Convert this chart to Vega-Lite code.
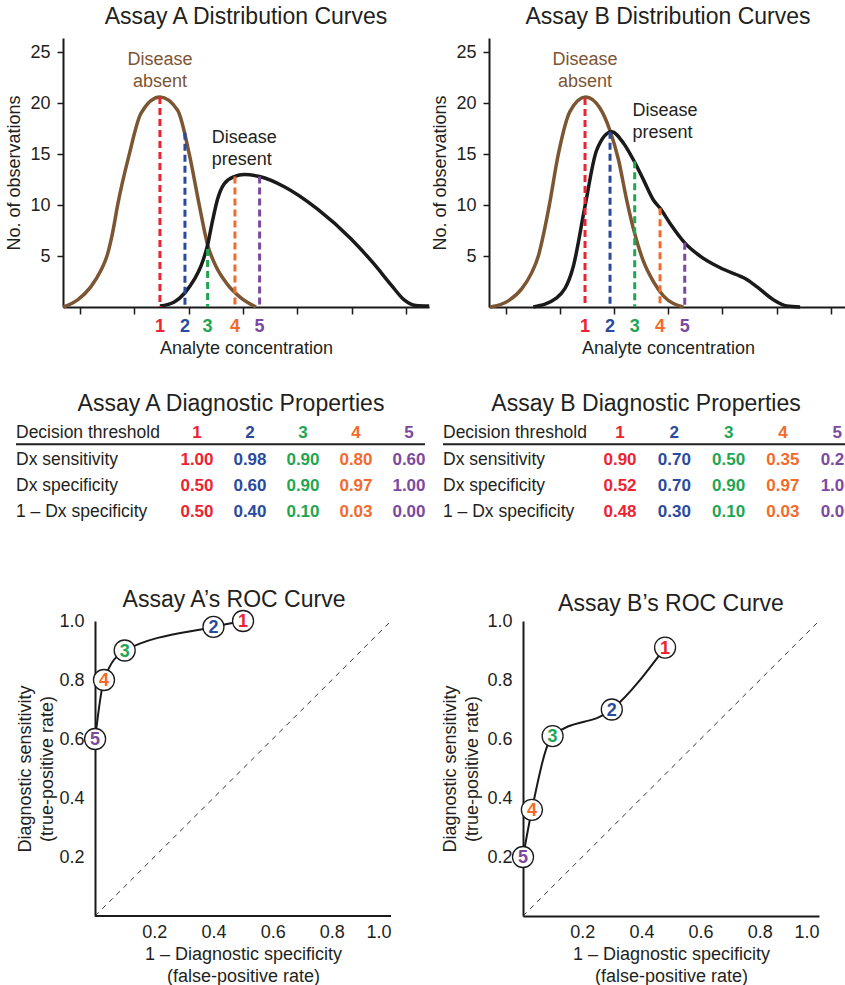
{
  "$schema": "https://vega.github.io/schema/vega-lite/v6.json",
  "padding": {"left": 5, "top": 5, "right": 0, "bottom": 0},
  "columns": 1,
  "align": "none",
  "spacing": 35,
  "config": {
    "font": "Liberation Sans",
    "view": {"stroke": null},
    "title": {"font": "Liberation Sans", "fontSize": 23, "fontWeight": "normal", "color": "#231f20"},
    "axis": {"labelFont": "Liberation Sans", "titleFont": "Liberation Sans", "labelColor": "#231f20", "titleColor": "#231f20", "domainColor": "#1a1a1a", "tickColor": "#1a1a1a", "grid": false, "titleFontWeight": "normal"},
    "text": {"font": "Liberation Sans", "color": "#231f20"}
  },
  "datasets": {
    "dist": [
      {"assay": "A", "group": "Disease absent", "c": 0.386, "n": 0},
      {"assay": "A", "group": "Disease absent", "c": 0.914, "n": 0.7},
      {"assay": "A", "group": "Disease absent", "c": 1.405, "n": 2.0},
      {"assay": "A", "group": "Disease absent", "c": 1.773, "n": 3.6},
      {"assay": "A", "group": "Disease absent", "c": 1.994, "n": 5},
      {"assay": "A", "group": "Disease absent", "c": 2.202, "n": 7.3},
      {"assay": "A", "group": "Disease absent", "c": 2.386, "n": 10},
      {"assay": "A", "group": "Disease absent", "c": 2.816, "n": 15},
      {"assay": "A", "group": "Disease absent", "c": 3.245, "n": 19},
      {"assay": "A", "group": "Disease absent", "c": 3.944, "n": 20.6},
      {"assay": "A", "group": "Disease absent", "c": 4.595, "n": 19.3},
      {"assay": "A", "group": "Disease absent", "c": 5.024, "n": 15},
      {"assay": "A", "group": "Disease absent", "c": 5.392, "n": 10},
      {"assay": "A", "group": "Disease absent", "c": 5.699, "n": 6.1},
      {"assay": "A", "group": "Disease absent", "c": 6.006, "n": 4.0},
      {"assay": "A", "group": "Disease absent", "c": 6.435, "n": 2.2},
      {"assay": "A", "group": "Disease absent", "c": 6.926, "n": 0.9},
      {"assay": "A", "group": "Disease absent", "c": 7.478, "n": 0},
      {"assay": "A", "group": "Disease present", "c": 3.944, "n": 0.1},
      {"assay": "A", "group": "Disease present", "c": 4.472, "n": 0.5},
      {"assay": "A", "group": "Disease present", "c": 4.865, "n": 1.4},
      {"assay": "A", "group": "Disease present", "c": 5.208, "n": 2.7},
      {"assay": "A", "group": "Disease present", "c": 5.453, "n": 4.0},
      {"assay": "A", "group": "Disease present", "c": 5.699, "n": 6.1},
      {"assay": "A", "group": "Disease present", "c": 5.883, "n": 8.5},
      {"assay": "A", "group": "Disease present", "c": 6.067, "n": 10.6},
      {"assay": "A", "group": "Disease present", "c": 6.312, "n": 12.1},
      {"assay": "A", "group": "Disease present", "c": 6.68, "n": 12.8},
      {"assay": "A", "group": "Disease present", "c": 7.048, "n": 13.0},
      {"assay": "A", "group": "Disease present", "c": 7.613, "n": 12.8},
      {"assay": "A", "group": "Disease present", "c": 8.521, "n": 11.8},
      {"assay": "A", "group": "Disease present", "c": 9.748, "n": 9.6},
      {"assay": "A", "group": "Disease present", "c": 10.974, "n": 6.7},
      {"assay": "A", "group": "Disease present", "c": 11.833, "n": 4.2},
      {"assay": "A", "group": "Disease present", "c": 12.446, "n": 2.2},
      {"assay": "A", "group": "Disease present", "c": 12.937, "n": 0.7},
      {"assay": "A", "group": "Disease present", "c": 13.367, "n": 0.15},
      {"assay": "A", "group": "Disease present", "c": 13.857, "n": 0.1},
      {"assay": "B", "group": "Disease absent", "c": 0.423, "n": 0},
      {"assay": "B", "group": "Disease absent", "c": 1.1, "n": 0.6},
      {"assay": "B", "group": "Disease absent", "c": 1.6, "n": 1.8},
      {"assay": "B", "group": "Disease absent", "c": 1.95, "n": 3.3},
      {"assay": "B", "group": "Disease absent", "c": 2.208, "n": 5},
      {"assay": "B", "group": "Disease absent", "c": 2.42, "n": 7.4},
      {"assay": "B", "group": "Disease absent", "c": 2.614, "n": 10},
      {"assay": "B", "group": "Disease absent", "c": 2.946, "n": 15},
      {"assay": "B", "group": "Disease absent", "c": 3.377, "n": 19.2},
      {"assay": "B", "group": "Disease absent", "c": 3.955, "n": 20.6},
      {"assay": "B", "group": "Disease absent", "c": 4.485, "n": 19.5},
      {"assay": "B", "group": "Disease absent", "c": 4.854, "n": 17.3},
      {"assay": "B", "group": "Disease absent", "c": 5.162, "n": 14.5},
      {"assay": "B", "group": "Disease absent", "c": 5.469, "n": 10.5},
      {"assay": "B", "group": "Disease absent", "c": 5.765, "n": 7.2},
      {"assay": "B", "group": "Disease absent", "c": 6.085, "n": 4.5},
      {"assay": "B", "group": "Disease absent", "c": 6.454, "n": 2.5},
      {"assay": "B", "group": "Disease absent", "c": 6.824, "n": 1.1},
      {"assay": "B", "group": "Disease absent", "c": 7.562, "n": 0},
      {"assay": "B", "group": "Disease present", "c": 2.023, "n": 0},
      {"assay": "B", "group": "Disease present", "c": 2.884, "n": 0.9},
      {"assay": "B", "group": "Disease present", "c": 3.5, "n": 4},
      {"assay": "B", "group": "Disease present", "c": 3.931, "n": 9.9},
      {"assay": "B", "group": "Disease present", "c": 4.361, "n": 15.4},
      {"assay": "B", "group": "Disease present", "c": 4.915, "n": 17.2},
      {"assay": "B", "group": "Disease present", "c": 5.346, "n": 16.1},
      {"assay": "B", "group": "Disease present", "c": 5.765, "n": 14.2},
      {"assay": "B", "group": "Disease present", "c": 6.085, "n": 12.5},
      {"assay": "B", "group": "Disease present", "c": 6.454, "n": 10.5},
      {"assay": "B", "group": "Disease present", "c": 6.7, "n": 9.7},
      {"assay": "B", "group": "Disease present", "c": 7.07, "n": 8.2},
      {"assay": "B", "group": "Disease present", "c": 7.611, "n": 6.3},
      {"assay": "B", "group": "Disease present", "c": 8.178, "n": 5.0},
      {"assay": "B", "group": "Disease present", "c": 9.039, "n": 3.7},
      {"assay": "B", "group": "Disease present", "c": 9.901, "n": 2.7},
      {"assay": "B", "group": "Disease present", "c": 10.27, "n": 2.0},
      {"assay": "B", "group": "Disease present", "c": 10.886, "n": 0.7},
      {"assay": "B", "group": "Disease present", "c": 11.378, "n": 0.1},
      {"assay": "B", "group": "Disease present", "c": 11.87, "n": 0}
    ],
    "thresholds": [
      {"assay": "A", "t": 1, "c": 3.944, "top": 20.6},
      {"assay": "A", "t": 2, "c": 4.865, "top": 17.1},
      {"assay": "A", "t": 3, "c": 5.699, "top": 5.7},
      {"assay": "A", "t": 4, "c": 6.705, "top": 12.8},
      {"assay": "A", "t": 5, "c": 7.613, "top": 12.8},
      {"assay": "B", "t": 1, "c": 3.931, "top": 20.5},
      {"assay": "B", "t": 2, "c": 4.854, "top": 17.2},
      {"assay": "B", "t": 3, "c": 5.765, "top": 14.3},
      {"assay": "B", "t": 4, "c": 6.7, "top": 9.7},
      {"assay": "B", "t": 5, "c": 7.611, "top": 6.3}
    ],
    "curveLabels": [
      {"assay": "A", "group": "Disease absent", "label": "Disease\nabsent", "c": 3.944, "n": 24.2},
      {"assay": "A", "group": "Disease present", "label": "Disease\npresent", "c": 5.85, "n": 16.6},
      {"assay": "B", "group": "Disease absent", "label": "Disease\nabsent", "c": 3.93, "n": 24.2},
      {"assay": "B", "group": "Disease present", "label": "Disease\npresent", "c": 5.68, "n": 19.2}
    ],
    "rowLabels": [
      {"assay": "A", "r": 0, "label": "Decision threshold"},
      {"assay": "A", "r": 1, "label": "Dx sensitivity"},
      {"assay": "A", "r": 2, "label": "Dx specificity"},
      {"assay": "A", "r": 3, "label": "1 – Dx specificity"},
      {"assay": "B", "r": 0, "label": "Decision threshold"},
      {"assay": "B", "r": 1, "label": "Dx sensitivity"},
      {"assay": "B", "r": 2, "label": "Dx specificity"},
      {"assay": "B", "r": 3, "label": "1 – Dx specificity"}
    ],
    "table": [
      {"assay": "A", "r": 0, "t": 1, "text": "1"},
      {"assay": "A", "r": 0, "t": 2, "text": "2"},
      {"assay": "A", "r": 0, "t": 3, "text": "3"},
      {"assay": "A", "r": 0, "t": 4, "text": "4"},
      {"assay": "A", "r": 0, "t": 5, "text": "5"},
      {"assay": "A", "r": 1, "t": 1, "text": "1.00"},
      {"assay": "A", "r": 1, "t": 2, "text": "0.98"},
      {"assay": "A", "r": 1, "t": 3, "text": "0.90"},
      {"assay": "A", "r": 1, "t": 4, "text": "0.80"},
      {"assay": "A", "r": 1, "t": 5, "text": "0.60"},
      {"assay": "A", "r": 2, "t": 1, "text": "0.50"},
      {"assay": "A", "r": 2, "t": 2, "text": "0.60"},
      {"assay": "A", "r": 2, "t": 3, "text": "0.90"},
      {"assay": "A", "r": 2, "t": 4, "text": "0.97"},
      {"assay": "A", "r": 2, "t": 5, "text": "1.00"},
      {"assay": "A", "r": 3, "t": 1, "text": "0.50"},
      {"assay": "A", "r": 3, "t": 2, "text": "0.40"},
      {"assay": "A", "r": 3, "t": 3, "text": "0.10"},
      {"assay": "A", "r": 3, "t": 4, "text": "0.03"},
      {"assay": "A", "r": 3, "t": 5, "text": "0.00"},
      {"assay": "B", "r": 0, "t": 1, "text": "1"},
      {"assay": "B", "r": 0, "t": 2, "text": "2"},
      {"assay": "B", "r": 0, "t": 3, "text": "3"},
      {"assay": "B", "r": 0, "t": 4, "text": "4"},
      {"assay": "B", "r": 0, "t": 5, "text": "5"},
      {"assay": "B", "r": 1, "t": 1, "text": "0.90"},
      {"assay": "B", "r": 1, "t": 2, "text": "0.70"},
      {"assay": "B", "r": 1, "t": 3, "text": "0.50"},
      {"assay": "B", "r": 1, "t": 4, "text": "0.35"},
      {"assay": "B", "r": 1, "t": 5, "text": "0.20"},
      {"assay": "B", "r": 2, "t": 1, "text": "0.52"},
      {"assay": "B", "r": 2, "t": 2, "text": "0.70"},
      {"assay": "B", "r": 2, "t": 3, "text": "0.90"},
      {"assay": "B", "r": 2, "t": 4, "text": "0.97"},
      {"assay": "B", "r": 2, "t": 5, "text": "1.00"},
      {"assay": "B", "r": 3, "t": 1, "text": "0.48"},
      {"assay": "B", "r": 3, "t": 2, "text": "0.30"},
      {"assay": "B", "r": 3, "t": 3, "text": "0.10"},
      {"assay": "B", "r": 3, "t": 4, "text": "0.03"},
      {"assay": "B", "r": 3, "t": 5, "text": "0.00"}
    ],
    "roc": [
      {"assay": "A", "t": 1, "fpr": 0.5, "tpr": 1.0},
      {"assay": "A", "t": 2, "fpr": 0.4, "tpr": 0.98},
      {"assay": "A", "t": 3, "fpr": 0.1, "tpr": 0.9},
      {"assay": "A", "t": 4, "fpr": 0.03, "tpr": 0.8},
      {"assay": "A", "t": 5, "fpr": 0.0, "tpr": 0.6},
      {"assay": "B", "t": 1, "fpr": 0.48, "tpr": 0.91},
      {"assay": "B", "t": 2, "fpr": 0.3, "tpr": 0.7},
      {"assay": "B", "t": 3, "fpr": 0.1, "tpr": 0.61},
      {"assay": "B", "t": 4, "fpr": 0.03, "tpr": 0.36},
      {"assay": "B", "t": 5, "fpr": 0.0, "tpr": 0.2}
    ],
    "chance": [
      {"fpr": 0, "tpr": 0},
      {"fpr": 1, "tpr": 1}
    ]
  },
  "concat": [
    {
      "spacing": -6,
      "hconcat": [
        {
          "width": 366, "height": 269,
          "title": {"text": "Assay A Distribution Curves", "frame": "group", "offset": 9.5},
          "layer": [
            {
              "data": {"name": "dist"},
              "transform": [{"filter": "datum.assay === 'A'"}],
              "mark": {"type": "line", "interpolate": "monotone", "strokeWidth": 3.5},
              "encoding": {
                "x": {"field": "c", "type": "quantitative", "scale": {"domain": [0.375, 13.85], "nice": false, "zero": false},
                  "axis": {"values": [1,2,3,4,5,6,7,8,9,10,11,12,13], "labels": false, "tickSize": 7, "tickWidth": 1.5, "domainWidth": 2, "title": "Analyte concentration", "titleFontSize": 18, "titlePadding": 25}},
                "y": {"field": "n", "type": "quantitative", "scale": {"domain": [0, 26.4], "nice": false},
                  "axis": {"values": [5,10,15,20,25], "tickSize": 6, "tickWidth": 1.5, "labelPadding": 7, "labelFontSize": 18, "domainWidth": 2, "title": "No. of observations", "titleFontSize": 18, "titlePadding": 6}},
                "stroke": {"field": "group", "type": "nominal", "scale": {"domain": ["Disease absent", "Disease present"], "range": ["#7c5533", "#1a1a1a"]}, "legend": null}
              }
            },
            {
              "data": {"name": "thresholds"},
              "transform": [{"filter": "datum.assay === 'A'"}],
              "mark": {"type": "rule", "strokeDash": [7, 4], "strokeWidth": 3},
              "encoding": {
                "x": {"field": "c", "type": "quantitative"},
                "y": {"field": "top", "type": "quantitative"},
                "y2": {"datum": 0},
                "color": {"field": "t", "type": "nominal", "scale": {"domain": [1,2,3,4,5], "range": ["#ec2331", "#2b4a9e", "#1fa652", "#f36b2c", "#7b4a9f"]}, "legend": null}
              }
            },
            {
              "data": {"name": "thresholds"},
              "transform": [{"filter": "datum.assay === 'A'"}],
              "mark": {"type": "text", "fontSize": 18, "fontWeight": "bold", "dy": 20, "baseline": "middle"},
              "encoding": {
                "x": {"field": "c", "type": "quantitative"},
                "y": {"datum": 0, "type": "quantitative"},
                "text": {"field": "t", "type": "nominal"},
                "color": {"field": "t", "type": "nominal", "scale": {"domain": [1,2,3,4,5], "range": ["#ec2331", "#2b4a9e", "#1fa652", "#f36b2c", "#7b4a9f"]}, "legend": null}
              }
            },
            {
              "data": {"name": "curveLabels"},
              "transform": [{"filter": "datum.assay === 'A' && datum.group === 'Disease absent'"}],
              "mark": {"type": "text", "fontSize": 18, "lineBreak": "\n", "align": "center", "baseline": "middle", "lineHeight": 22},
              "encoding": {
                "x": {"field": "c", "type": "quantitative"},
                "y": {"field": "n", "type": "quantitative"},
                "text": {"field": "label", "type": "nominal"},
                "fill": {"field": "group", "type": "nominal", "scale": {"domain": ["Disease absent", "Disease present"], "range": ["#7c5533", "#231f20"]}, "legend": null}
              }
            },
            {
              "data": {"name": "curveLabels"},
              "transform": [{"filter": "datum.assay === 'A' && datum.group === 'Disease present'"}],
              "mark": {"type": "text", "fontSize": 18, "lineBreak": "\n", "align": "left", "baseline": "middle", "lineHeight": 22},
              "encoding": {
                "x": {"field": "c", "type": "quantitative"},
                "y": {"field": "n", "type": "quantitative"},
                "text": {"field": "label", "type": "nominal"},
                "fill": {"field": "group", "type": "nominal", "scale": {"domain": ["Disease absent", "Disease present"], "range": ["#7c5533", "#231f20"]}, "legend": null}
              }
            }
          ]
        },
        {
          "width": 358, "height": 269,
          "title": {"text": "Assay B Distribution Curves", "frame": "group", "offset": 9.5},
          "layer": [
            {
              "data": {"name": "dist"},
              "transform": [{"filter": "datum.assay === 'B'"}],
              "mark": {"type": "line", "interpolate": "monotone", "strokeWidth": 3.5},
              "encoding": {
                "x": {"field": "c", "type": "quantitative", "scale": {"domain": [0.387, 13.6], "nice": false, "zero": false},
                  "axis": {"values": [1,2,3,4,5,6,7,8,9,10,11,12,13], "labels": false, "tickSize": 7, "tickWidth": 1.5, "domainWidth": 2, "title": "Analyte concentration", "titleFontSize": 18, "titlePadding": 25}},
                "y": {"field": "n", "type": "quantitative", "scale": {"domain": [0, 26.4], "nice": false},
                  "axis": {"values": [5,10,15,20,25], "tickSize": 6, "tickWidth": 1.5, "labelPadding": 7, "labelFontSize": 18, "domainWidth": 2, "title": "No. of observations", "titleFontSize": 18, "titlePadding": 6}},
                "stroke": {"field": "group", "type": "nominal", "scale": {"domain": ["Disease absent", "Disease present"], "range": ["#7c5533", "#1a1a1a"]}, "legend": null}
              }
            },
            {
              "data": {"name": "thresholds"},
              "transform": [{"filter": "datum.assay === 'B'"}],
              "mark": {"type": "rule", "strokeDash": [7, 4], "strokeWidth": 3},
              "encoding": {
                "x": {"field": "c", "type": "quantitative"},
                "y": {"field": "top", "type": "quantitative"},
                "y2": {"datum": 0},
                "color": {"field": "t", "type": "nominal", "scale": {"domain": [1,2,3,4,5], "range": ["#ec2331", "#2b4a9e", "#1fa652", "#f36b2c", "#7b4a9f"]}, "legend": null}
              }
            },
            {
              "data": {"name": "thresholds"},
              "transform": [{"filter": "datum.assay === 'B'"}],
              "mark": {"type": "text", "fontSize": 18, "fontWeight": "bold", "dy": 20, "baseline": "middle"},
              "encoding": {
                "x": {"field": "c", "type": "quantitative"},
                "y": {"datum": 0, "type": "quantitative"},
                "text": {"field": "t", "type": "nominal"},
                "color": {"field": "t", "type": "nominal", "scale": {"domain": [1,2,3,4,5], "range": ["#ec2331", "#2b4a9e", "#1fa652", "#f36b2c", "#7b4a9f"]}, "legend": null}
              }
            },
            {
              "data": {"name": "curveLabels"},
              "transform": [{"filter": "datum.assay === 'B' && datum.group === 'Disease absent'"}],
              "mark": {"type": "text", "fontSize": 18, "lineBreak": "\n", "align": "center", "baseline": "middle", "lineHeight": 22},
              "encoding": {
                "x": {"field": "c", "type": "quantitative"},
                "y": {"field": "n", "type": "quantitative"},
                "text": {"field": "label", "type": "nominal"},
                "fill": {"field": "group", "type": "nominal", "scale": {"domain": ["Disease absent", "Disease present"], "range": ["#7c5533", "#231f20"]}, "legend": null}
              }
            },
            {
              "data": {"name": "curveLabels"},
              "transform": [{"filter": "datum.assay === 'B' && datum.group === 'Disease present'"}],
              "mark": {"type": "text", "fontSize": 18, "lineBreak": "\n", "align": "left", "baseline": "middle", "lineHeight": 22},
              "encoding": {
                "x": {"field": "c", "type": "quantitative"},
                "y": {"field": "n", "type": "quantitative"},
                "text": {"field": "label", "type": "nominal"},
                "fill": {"field": "group", "type": "nominal", "scale": {"domain": ["Disease absent", "Disease present"], "range": ["#7c5533", "#231f20"]}, "legend": null}
              }
            }
          ]
        }
      ]
    },
    {
      "spacing": 16,
      "hconcat": [
        {
          "width": 362, "height": 132.5,
          "title": {"text": "Assay A Diagnostic Properties", "frame": "group", "dx": -13, "offset": 4, "fontSize": 23},
          "layer": [
            {
              "data": {"name": "rowLabels"},
              "transform": [{"filter": "datum.assay === 'A'"}],
              "mark": {"type": "text", "align": "left", "baseline": "middle", "fontSize": 17.5},
              "encoding": {
                "x": {"datum": -2.415, "type": "quantitative", "scale": {"domain": [-1.528, 5.302], "nice": false, "zero": false}, "axis": null},
                "y": {"field": "r", "type": "quantitative", "scale": {"domain": [-0.5, 4.53], "reverse": true, "nice": false, "zero": false}, "axis": null},
                "text": {"field": "label", "type": "nominal"}
              }
            },
            {
              "data": {"name": "rowLabels"},
              "transform": [{"filter": "datum.assay === 'A' && datum.r === 0"}],
              "mark": {"type": "rule", "strokeWidth": 2, "color": "#231f20"},
              "encoding": {
                "x": {"datum": -2.415, "type": "quantitative"},
                "x2": {"datum": 5.302},
                "y": {"datum": 0.42, "type": "quantitative"}
              }
            },
            {
              "data": {"name": "table"},
              "transform": [{"filter": "datum.assay === 'A'"}],
              "mark": {"type": "text", "baseline": "middle", "fontSize": 17, "fontWeight": "bold"},
              "encoding": {
                "x": {"field": "t", "type": "quantitative"},
                "y": {"field": "r", "type": "quantitative"},
                "text": {"field": "text", "type": "nominal"},
                "color": {"field": "t", "type": "nominal", "scale": {"domain": [1,2,3,4,5], "range": ["#ec2331", "#2b3f98", "#1fa652", "#f36b2c", "#7b4a9f"]}, "legend": null}
              }
            }
          ]
        },
        {
          "width": 406, "height": 132.5,
          "title": {"text": "Assay B Diagnostic Properties", "frame": "group", "offset": 4, "fontSize": 23},
          "layer": [
            {
              "data": {"name": "rowLabels"},
              "transform": [{"filter": "datum.assay === 'B'"}],
              "mark": {"type": "text", "align": "left", "baseline": "middle", "fontSize": 17.5},
              "encoding": {
                "x": {"datum": -2.26, "type": "quantitative", "scale": {"domain": [-2.26, 5.217], "nice": false, "zero": false}, "axis": null},
                "y": {"field": "r", "type": "quantitative", "scale": {"domain": [-0.5, 4.53], "reverse": true, "nice": false, "zero": false}, "axis": null},
                "text": {"field": "label", "type": "nominal"}
              }
            },
            {
              "data": {"name": "rowLabels"},
              "transform": [{"filter": "datum.assay === 'B' && datum.r === 0"}],
              "mark": {"type": "rule", "strokeWidth": 2, "color": "#231f20"},
              "encoding": {
                "x": {"datum": -2.26, "type": "quantitative"},
                "x2": {"datum": 5.217},
                "y": {"datum": 0.42, "type": "quantitative"}
              }
            },
            {
              "data": {"name": "table"},
              "transform": [{"filter": "datum.assay === 'B'"}],
              "mark": {"type": "text", "baseline": "middle", "fontSize": 17, "fontWeight": "bold", "clip": true},
              "encoding": {
                "x": {"field": "t", "type": "quantitative"},
                "y": {"field": "r", "type": "quantitative"},
                "text": {"field": "text", "type": "nominal"},
                "color": {"field": "t", "type": "nominal", "scale": {"domain": [1,2,3,4,5], "range": ["#ec2331", "#2b3f98", "#1fa652", "#f36b2c", "#7b4a9f"]}, "legend": null}
              }
            }
          ]
        }
      ]
    },
    {
      "spacing": 48,
      "hconcat": [
        {
          "width": 328, "height": 295,
          "title": {"text": "Assay A’s ROC Curve", "frame": "group", "offset": -4, "dx": 7},
          "layer": [
            {
              "data": {"name": "chance"},
              "mark": {"type": "line", "strokeDash": [5, 5], "strokeWidth": 1, "color": "#333333"},
              "encoding": {
                "x": {"field": "fpr", "type": "quantitative", "scale": {"domain": [-0.1085, 1], "nice": false, "zero": false},
                  "axis": {"values": [0.2, 0.4, 0.6, 0.8, 1.0], "format": ".1f", "ticks": false, "domain": false, "labelPadding": 7, "labelFontSize": 18, "title": ["1 – Diagnostic specificity", "(false-positive rate)"], "titleFontSize": 18, "titleLineHeight": 22, "titlePadding": 4, "titleX": 180}},
                "y": {"field": "tpr", "type": "quantitative", "scale": {"domain": [0, 1], "nice": false},
                  "axis": {"values": [0.2, 0.4, 0.6, 0.8, 1.0], "format": ".1f", "ticks": false, "offset": -32, "labelPadding": 11, "labelFontSize": 18, "domainWidth": 2, "title": ["Diagnostic sensitivity", "(true-positive rate)"], "titleFontSize": 18, "titleLineHeight": 22, "titlePadding": 2}}
              }
            },
            {
              "data": {"name": "chance"},
              "transform": [{"filter": "datum.fpr === 0"}],
              "mark": {"type": "rule", "strokeWidth": 2, "color": "#1a1a1a"},
              "encoding": {
                "x": {"datum": 0, "type": "quantitative"},
                "x2": {"datum": 1},
                "y": {"datum": 0, "type": "quantitative"}
              }
            },
            {
              "data": {"name": "roc"},
              "transform": [{"filter": "datum.assay === 'A'"}],
              "mark": {"type": "line", "interpolate": "monotone", "strokeWidth": 2, "color": "#1a1a1a"},
              "encoding": {
                "x": {"field": "fpr", "type": "quantitative"},
                "y": {"field": "tpr", "type": "quantitative"}
              }
            },
            {
              "data": {"name": "roc"},
              "transform": [{"filter": "datum.assay === 'A'"}],
              "mark": {"type": "circle", "size": 441, "fill": "white", "stroke": "#1a1a1a", "strokeWidth": 1.3, "opacity": 1},
              "encoding": {
                "x": {"field": "fpr", "type": "quantitative"},
                "y": {"field": "tpr", "type": "quantitative"}
              }
            },
            {
              "data": {"name": "roc"},
              "transform": [{"filter": "datum.assay === 'A'"}],
              "mark": {"type": "text", "fontSize": 18, "fontWeight": "bold", "baseline": "middle", "dy": 1},
              "encoding": {
                "x": {"field": "fpr", "type": "quantitative"},
                "y": {"field": "tpr", "type": "quantitative"},
                "text": {"field": "t", "type": "nominal"},
                "color": {"field": "t", "type": "nominal", "scale": {"domain": [1,2,3,4,5], "range": ["#ec2331", "#2b3f98", "#1fa652", "#f36b2c", "#7b4a9f"]}, "legend": null}
              }
            }
          ]
        },
        {
          "width": 296, "height": 295,
          "title": {"text": "Assay B’s ROC Curve", "frame": "group", "offset": -4},
          "layer": [
            {
              "data": {"name": "chance"},
              "mark": {"type": "line", "strokeDash": [5, 5], "strokeWidth": 1, "color": "#333333"},
              "encoding": {
                "x": {"field": "fpr", "type": "quantitative", "scale": {"domain": [0, 1], "nice": false},
                  "axis": {"values": [0.2, 0.4, 0.6, 0.8, 1.0], "format": ".1f", "ticks": false, "labelPadding": 7, "labelFontSize": 18, "domainWidth": 2, "title": ["1 – Diagnostic specificity", "(false-positive rate)"], "titleFontSize": 18, "titleLineHeight": 22, "titlePadding": 4}},
                "y": {"field": "tpr", "type": "quantitative", "scale": {"domain": [0, 1], "nice": false},
                  "axis": {"values": [0.2, 0.4, 0.6, 0.8, 1.0], "format": ".1f", "ticks": false, "labelPadding": 11, "labelFontSize": 18, "domainWidth": 2, "title": ["Diagnostic sensitivity", "(true-positive rate)"], "titleFontSize": 18, "titleLineHeight": 22, "titlePadding": 5}}
              }
            },
            {
              "data": {"name": "roc"},
              "transform": [{"filter": "datum.assay === 'B'"}],
              "mark": {"type": "line", "interpolate": "monotone", "strokeWidth": 2, "color": "#1a1a1a"},
              "encoding": {
                "x": {"field": "fpr", "type": "quantitative"},
                "y": {"field": "tpr", "type": "quantitative"}
              }
            },
            {
              "data": {"name": "roc"},
              "transform": [{"filter": "datum.assay === 'B'"}],
              "mark": {"type": "circle", "size": 441, "fill": "white", "stroke": "#1a1a1a", "strokeWidth": 1.3, "opacity": 1},
              "encoding": {
                "x": {"field": "fpr", "type": "quantitative"},
                "y": {"field": "tpr", "type": "quantitative"}
              }
            },
            {
              "data": {"name": "roc"},
              "transform": [{"filter": "datum.assay === 'B'"}],
              "mark": {"type": "text", "fontSize": 18, "fontWeight": "bold", "baseline": "middle", "dy": 1},
              "encoding": {
                "x": {"field": "fpr", "type": "quantitative"},
                "y": {"field": "tpr", "type": "quantitative"},
                "text": {"field": "t", "type": "nominal"},
                "color": {"field": "t", "type": "nominal", "scale": {"domain": [1,2,3,4,5], "range": ["#ec2331", "#2b3f98", "#1fa652", "#f36b2c", "#7b4a9f"]}, "legend": null}
              }
            }
          ]
        }
      ]
    }
  ]
}
